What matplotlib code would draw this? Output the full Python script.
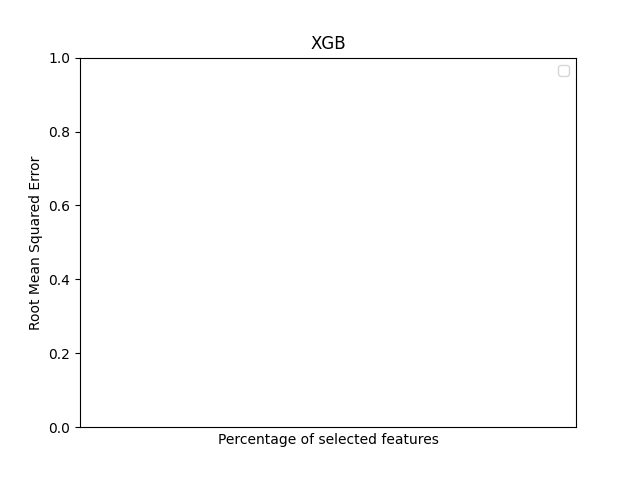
import matplotlib
matplotlib.use("Agg")
import matplotlib.pyplot as plt

# the reference chart holds no data series
title = "XGB"
percent_selected = []
rmse_values = []

fig, ax = plt.subplots(figsize=(6.4, 4.8), dpi=100)

ax.plot(percent_selected, rmse_values)

ax.set_title(title)
ax.set_xlabel("Percentage of selected features")
ax.set_ylabel("Root Mean Squared Error")
ax.set_xticks([])
ax.set_ylim(0, 1)
ax.legend(handles=[], loc="upper right")

fig.savefig("out.png", dpi=100)
plt.close(fig)
